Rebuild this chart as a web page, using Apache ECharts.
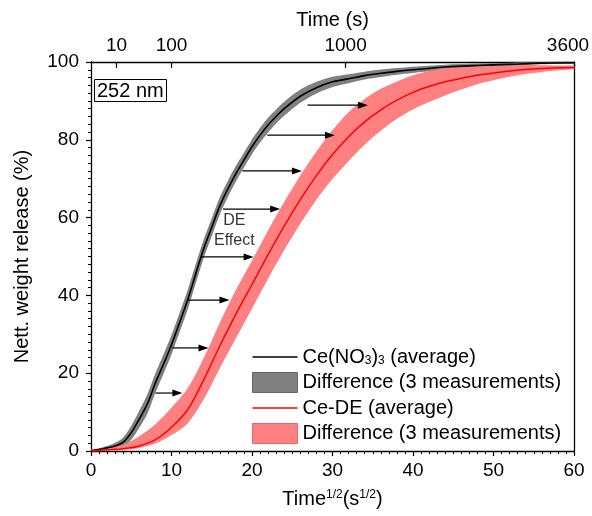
<!DOCTYPE html>
<html>
<head>
<meta charset="utf-8">
<script src="https://cdn.jsdelivr.net/npm/echarts@6/dist/echarts.min.js"></script>
<style>
html,body{margin:0;padding:0;background:#fff;}
#chart{width:592px;height:516px;}
</style>
</head>
<body>
<div id="chart"></div>
<script>
// ---- data ----
// Ce(NO3)3 average curve (x = sqrt(time), y = % release)
const blackX   = [0,1,2,3,4,5,6,7,8,9,10,11,12,13,14,15,16,17,18,19,20,21,22,23,24,26,28,30,32,34,36,38,40,44,48,52,56,60];
const blackAvg = [0,0.4,0.8,1.3,2.3,4.7,8.2,12.1,17.5,22.3,27.3,33,38.8,45.5,52,57.5,63,67.4,71.3,74.8,78.2,81.2,83.8,86,88,91.2,93.4,94.9,95.7,96.5,97.1,97.6,98,98.7,99.1,99.4,99.7,99.8];
const blackSpread = [0.3,0.3,0.5,0.8,1.2,1.8,2.2,2.5,2.5,2.5,2.5,2.5,2.5,2.5,2.4,2.3,2.2,2.1,2,1.9,1.9,1.9,1.9,1.8,1.8,1.7,1.5,1.3,1.15,1,0.95,0.85,0.8,0.6,0.5,0.4,0.3,0.2];
// Ce-DE average curve
const redX   = [0,2,4,6,8,10,12,14,16,18,20,22,24,26,28,30,32,34,36,38,40,42,44,46,48,50,52,54,56,58,60];
const redAvg = [0,0.3,0.6,1.3,2.9,6.1,10.6,18.3,27,35.2,42.8,50.5,57.8,64.6,70.8,76.2,80.8,84.6,87.7,90.2,92.2,93.7,94.9,95.8,96.6,97.2,97.7,98.1,98.3,98.5,98.6];
const redSpreadUp   = [0.2,0.4,1,2.5,4,5,5.5,5.6,6,6.2,6.2,6.2,6.2,6.2,6.2,6.3,6.3,5.9,5.4,4.8,4.4,4.0,3.5,2.9,2.3,1.9,1.5,1.2,0.85,0.6,0.4];
const redSpreadDown = [0.2,0.2,0.3,0.5,1,2,3.5,5,5.7,6.2,6.2,6.2,6.2,6.2,6.2,6.3,6.3,5.9,5.4,4.8,4.4,4.0,3.5,2.9,2.3,1.9,1.5,1.2,0.85,0.6,0.4];
// DE effect arrows: [y, xStart, xEnd]
const arrowY     = [14.9,26.5,38.8,49.9,62.2,72.0,81.2,88.9];
const arrowStart = [8.0,10.1,12.0,13.7,16.4,18.8,21.9,26.9];
const arrowEnd   = [11.35,14.6,17.2,20.2,23.5,26.2,30.3,34.4];
// axis ticks
const topTickSeconds = [10,100,1000,3600];
const bottomTicks = [0,10,20,30,40,50,60];
const leftTicks = [0,20,40,60,80,100];
const annotation = {x:17.8, y:56.7, text:'DE\nEffect'};

const FONT = 'Liberation Sans, Arial, sans-serif';

const blackLo = blackAvg.map((v,i)=>Math.max(0, v - blackSpread[i]));
const blackHi = blackAvg.map((v,i)=>Math.min(100, v + blackSpread[i]));
const redLo = redAvg.map((v,i)=>Math.max(0, v - redSpreadDown[i]));
const redHi = redAvg.map((v,i)=>Math.min(100, v + redSpreadUp[i]));

function bandSeries(name, xs, lo, hi, fill, stroke){
  return {
    name: name, type: 'custom', xAxisIndex: 0, yAxisIndex: 0,
    itemStyle: {color: fill, borderColor: stroke},
    data: xs.map((x,i)=>[x, lo[i], hi[i]]),
    encode: {x: 0, y: [1,2]},
    silent: true,
    renderItem: function(params, api){
      if (params.dataIndex !== 0) return null;
      const pts = [];
      for (let i=0;i<xs.length;i++) pts.push(api.coord([xs[i], hi[i]]));
      for (let i=xs.length-1;i>=0;i--) pts.push(api.coord([xs[i], lo[i]]));
      return {type:'polygon', shape:{points: pts, smooth: 0.3}, style:{fill: fill}};
    }
  };
}

const chart = echarts.init(document.getElementById('chart'), null, {renderer:'canvas'});

const option = {
  animation: false,
  backgroundColor: '#fff',
  textStyle: {fontFamily: FONT},
  title: {
    text: '252 nm', left: 94, top: 79, padding: [2,3,1,3],
    borderColor: '#000', borderWidth: 1,
    textStyle: {fontSize: 20, fontWeight: 'normal', color: '#000', fontFamily: FONT}
  },
  grid: {left: 91, right: 18, top: 62, bottom: 65, outerBoundsMode: 'none', containLabel: false},
  legend: {
    orient: 'vertical', left: 247, top: 342, itemGap: 5, itemWidth: 45, itemHeight: 20,
    textStyle: {fontSize: 20, color: '#000', fontFamily: FONT,
      rich: {sub: {fontSize: 12, verticalAlign: 'bottom', fontFamily: FONT, color:'#000'}, n:{fontSize:20, fontFamily: FONT, color:'#000'}}},
    data: [
      {name: 'ceno3', icon: 'path://M0,0 L45,0 L45,1.6 L0,1.6 Z', itemStyle: {color: '#000'}},
      {name: 'diffBlack', icon: 'rect', itemStyle: {color: '#808080', borderColor: '#666', borderWidth: 1}},
      {name: 'cede', icon: 'path://M0,0 L45,0 L45,1.6 L0,1.6 Z', itemStyle: {color: '#ff0000'}},
      {name: 'diffRed', icon: 'rect', itemStyle: {color: '#ff8080', borderColor: '#d96b6b', borderWidth: 1}}
    ],
    formatter: function(name){
      if (name === 'ceno3') return '{n|Ce(NO}{sub|3}{n|)}{sub|3}{n| (average)}';
      if (name === 'cede') return 'Ce-DE (average)';
      return 'Difference (3 measurements)';
    },
    selectedMode: false
  },
  xAxis: [
    {
      type: 'value', min: 0, max: 60, interval: 10, position: 'bottom',
      name: 'Time{sup|1/2}(s{sup|1/2})', nameLocation: 'middle', nameGap: 38,
      nameTextStyle: {fontSize: 20, color: '#000', fontFamily: FONT,
        rich: {sup: {fontSize: 12, verticalAlign: 'top', fontFamily: FONT, color:'#000'}}},
      axisLine: {show: true, onZero: false, lineStyle: {color: '#000', width: 1.3}},
      axisTick: {show: true, inside: false, length: 5, lineStyle: {color: '#000', width: 1.2}},
      minorTick: {show: true, splitNumber: 10, length: 3, lineStyle: {color: '#000', width: 1}},
      axisLabel: {fontSize: 19, color: '#000', margin: 10, fontFamily: FONT,
        customValues: bottomTicks},
      splitLine: {show: false}
    },
    {
      type: 'value', min: 0, max: 60, position: 'top',
      name: 'Time (s)', nameLocation: 'middle', nameGap: 32,
      nameTextStyle: {fontSize: 20, color: '#000', fontFamily: FONT},
      axisLine: {show: true, onZero: false, lineStyle: {color: '#000', width: 1.3}},
      axisTick: {show: true, inside: true, length: 6, lineStyle: {color: '#000', width: 1.2},
        customValues: topTickSeconds.map(Math.sqrt)},
      axisLabel: {fontSize: 19, color: '#000', margin: 7, fontFamily: FONT,
        customValues: topTickSeconds.map(Math.sqrt),
        formatter: function(v){
          const s = String(Math.round(v*v));
          return s === '3600' ? '{last|' + s + '}' : s;
        },
        rich: {last: {fontSize: 19, color: '#000', fontFamily: FONT, padding: [0,12,0,0]}}},
      splitLine: {show: false}
    }
  ],
  yAxis: [
    {
      type: 'value', min: 0, max: 100, interval: 20,
      name: 'Nett. weight release (%)', nameLocation: 'middle', nameGap: 59,
      nameTextStyle: {fontSize: 20, color: '#000', fontFamily: FONT},
      axisLine: {show: true, onZero: false, lineStyle: {color: '#000', width: 1.3}},
      axisTick: {show: true, inside: false, length: 5, lineStyle: {color: '#000', width: 1.2}},
      minorTick: {show: true, splitNumber: 10, length: 3, lineStyle: {color: '#000', width: 1}},
      axisLabel: {fontSize: 19, color: '#000', margin: 12, fontFamily: FONT, customValues: leftTicks},
      splitLine: {show: false}
    },
    {
      type: 'value', min: 0, max: 100, position: 'right',
      axisLine: {show: true, onZero: false, lineStyle: {color: '#000', width: 1.3}},
      axisTick: {show: false}, axisLabel: {show: false}, splitLine: {show: false}
    }
  ],
  series: [
    bandSeries('diffBlack', blackX, blackLo, blackHi, '#808080', '#666'),
    bandSeries('diffRed', redX, redLo, redHi, '#ff8080', '#d96b6b'),
    {
      name: 'ceno3', type: 'line', xAxisIndex: 0, yAxisIndex: 0, smooth: 0.3,
      symbol: 'none', lineStyle: {color: '#000', width: 1.6}, itemStyle: {color: '#000'},
      data: blackX.map((x,i)=>[x, blackAvg[i]]), z: 3
    },
    {
      name: 'cede', type: 'line', xAxisIndex: 0, yAxisIndex: 0, smooth: 0.3,
      symbol: 'none', lineStyle: {color: '#ff0000', width: 1.5}, itemStyle: {color: '#ff0000'},
      data: redX.map((x,i)=>[x, redAvg[i]]), z: 3
    },
    {
      name: 'arrows', type: 'custom', xAxisIndex: 0, yAxisIndex: 0, silent: true, z: 4,
      data: arrowY.map((y,i)=>[arrowStart[i], arrowEnd[i], y]),
      encode: {x: [0,1], y: 2},
      renderItem: function(params, api){
        const p1 = api.coord([api.value(0), api.value(2)]);
        const p2 = api.coord([api.value(1), api.value(2)]);
        const hl = 10, hw = 3.5;
        return {type:'group', children:[
          {type:'line', shape:{x1:p1[0], y1:p1[1], x2:p2[0]-hl+1, y2:p2[1]}, style:{stroke:'#000', lineWidth:1.2}},
          {type:'polygon', shape:{points:[[p2[0],p2[1]],[p2[0]-hl,p2[1]-hw],[p2[0]-hl,p2[1]+hw]]}, style:{fill:'#000'}}
        ]};
      }
    },
    {
      name: 'annot', type: 'scatter', symbolSize: 0, silent: true, z: 5,
      itemStyle: {color: '#000'},
      data: [[annotation.x, annotation.y]],
      label: {show: true, position: 'inside', formatter: annotation.text,
        fontSize: 16, lineHeight: 20, color: '#000', fontFamily: FONT,
        textBorderWidth: 0, textBorderColor: 'transparent'}
    }
  ]
};
chart.setOption(option);
</script>
</body>
</html>
